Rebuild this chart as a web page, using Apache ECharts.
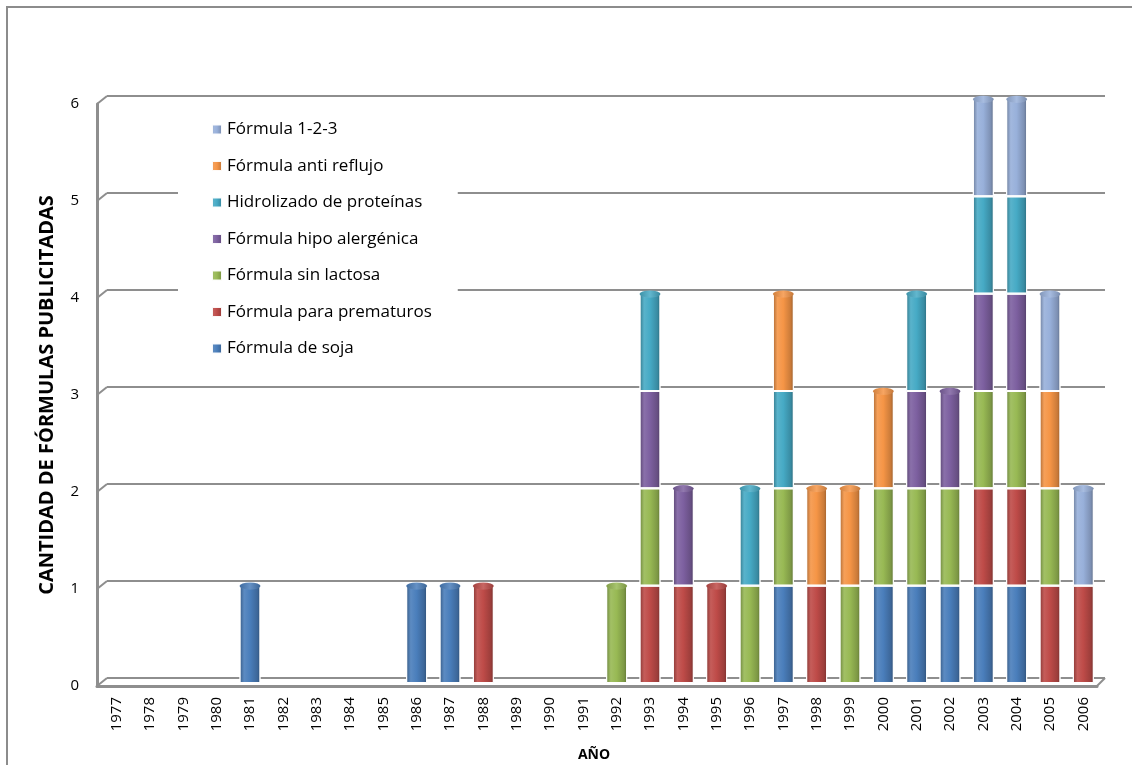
<!DOCTYPE html>
<html>
<head>
<meta charset="utf-8">
<script src="https://cdn.jsdelivr.net/npm/echarts@6/dist/echarts.min.js"></script>
<style>
  html, body { margin: 0; padding: 0; background: #ffffff; }
  #chart { width: 1132px; height: 765px; }
</style>
</head>
<body>
<div id="chart"></div>
<script>
// Years on the horizontal axis
const years = ['1977','1978','1979','1980','1981','1982','1983','1984','1985','1986',
               '1987','1988','1989','1990','1991','1992','1993','1994','1995','1996',
               '1997','1998','1999','2000','2001','2002','2003','2004','2005','2006'];

// Number of advertised formulas per type and year
const soja        = [0,0,0,0,1,0,0,0,0,1, 1,0,0,0,0,0,0,0,0,0, 1,0,0,1,1,1,1,1,0,0];
const prematuros  = [0,0,0,0,0,0,0,0,0,0, 0,1,0,0,0,0,1,1,1,0, 0,1,0,0,0,0,1,1,1,1];
const sinLactosa  = [0,0,0,0,0,0,0,0,0,0, 0,0,0,0,0,1,1,0,0,1, 1,0,1,1,1,1,1,1,1,0];
const hipoAlerg   = [0,0,0,0,0,0,0,0,0,0, 0,0,0,0,0,0,1,1,0,0, 0,0,0,0,1,1,1,1,0,0];
const hidrolizado = [0,0,0,0,0,0,0,0,0,0, 0,0,0,0,0,0,1,0,0,1, 1,0,0,0,1,0,1,1,0,0];
const antiReflujo = [0,0,0,0,0,0,0,0,0,0, 0,0,0,0,0,0,0,0,0,0, 1,1,1,1,0,0,0,0,1,0];
const formula123  = [0,0,0,0,0,0,0,0,0,0, 0,0,0,0,0,0,0,0,0,0, 0,0,0,0,0,0,1,1,1,1];

const yTicks = [0, 1, 2, 3, 4, 5, 6];

const seriesDefs = [
  { name: 'Fórmula de soja',          data: soja,        color: '#4A7EBB' },
  { name: 'Fórmula para prematuros',  data: prematuros,  color: '#BE4B48' },
  { name: 'Fórmula sin lactosa',      data: sinLactosa,  color: '#98B954' },
  { name: 'Fórmula hipo alergénica',  data: hipoAlerg,   color: '#7D60A0' },
  { name: 'Hidrolizado de proteínas', data: hidrolizado, color: '#46AAC5' },
  { name: 'Fórmula anti reflujo',     data: antiReflujo, color: '#F59546' },
  { name: 'Fórmula 1-2-3',            data: formula123,  color: '#98B0DA' }
];

function shade(hex, f) {
  const n = parseInt(hex.slice(1), 16);
  let r = (n >> 16) & 255, g = (n >> 8) & 255, b = n & 255;
  const mix = (c) => f >= 0 ? Math.round(c + (255 - c) * f) : Math.round(c * (1 + f));
  return 'rgb(' + mix(r) + ',' + mix(g) + ',' + mix(b) + ')';
}

// Horizontal gradient that gives each bar a rounded, cylinder-like look
function cylinder(hex) {
  return new echarts.graphic.LinearGradient(0, 0, 1, 0, [
    { offset: 0.00, color: shade(hex, -0.30) },
    { offset: 0.22, color: shade(hex, 0.10) },
    { offset: 0.50, color: hex },
    { offset: 0.85, color: shade(hex, -0.18) },
    { offset: 1.00, color: shade(hex, -0.38) }
  ]);
}

// Stack totals and the colour of the top segment, for the elliptical caps
const totals = years.map((_, i) => seriesDefs.reduce((s, d) => s + d.data[i], 0));
const capData = years.map((_, i) => {
  let top = -1;
  seriesDefs.forEach((d, k) => { if (d.data[i] > 0) top = k; });
  if (top < 0) return '-';
  const c = seriesDefs[top].color;
  return {
    value: totals[i],
    itemStyle: {
      color: new echarts.graphic.LinearGradient(0, 0, 1, 0, [
        { offset: 0, color: shade(c, -0.15) },
        { offset: 0.5, color: shade(c, 0.15) },
        { offset: 1, color: shade(c, -0.2) }
      ]),
      borderColor: '#f2f4f8', borderWidth: 1
    }
  };
});

const FONT = 'Open Sans';
const GRID_GREY = '#8e8e8e';

const chart = echarts.init(document.getElementById('chart'), null, { renderer: 'canvas' });

const barSeries = seriesDefs.map((d) => ({
  name: d.name,
  type: 'bar',
  stack: 'total',
  xAxisIndex: 0,
  yAxisIndex: 0,
  barWidth: 21,
  z: 5,
  data: d.data.map(v => v === 0 ? '-' : v),
  itemStyle: { color: cylinder(d.color), borderColor: 'rgba(255,255,255,0.95)', borderWidth: 1 },
  emphasis: { disabled: true }
}));

const option = {
  animation: false,
  backgroundColor: '#ffffff',
  color: seriesDefs.map(d => d.color),
  grid: [
    { left: 100, right: 32, top: 99, bottom: 82, outerBoundsMode: 'none' },   // bars
    { left: 107, right: 27, top: 96, bottom: 87, outerBoundsMode: 'none' },   // back wall
    { left: 97,  right: 35, top: 104, bottom: 79, outerBoundsMode: 'none' }   // front edges and labels
  ],
  xAxis: [
    {
      gridIndex: 0, type: 'category', data: years, boundaryGap: true,
      axisLine: { show: false }, axisTick: { show: false },
      axisLabel: { rotate: 90, fontSize: 15, color: '#000', margin: 14, fontFamily: FONT },
      name: 'AÑO', nameLocation: 'middle', nameGap: 65,
      nameTextStyle: { fontSize: 14, fontWeight: 'bold', color: '#000', fontFamily: FONT, padding: [0, 12, 0, 0] }
    },
    {
      gridIndex: 1, type: 'category', data: years, show: true,
      axisLine: { show: false }, axisTick: { show: false }, axisLabel: { show: false }
    },
    {
      gridIndex: 2, type: 'category', data: years,
      axisLine: { show: true, lineStyle: { color: GRID_GREY, width: 3 } },
      axisTick: { show: false }, axisLabel: { show: false }
    }
  ],
  yAxis: [
    {
      gridIndex: 0, type: 'value', min: 0, max: 6, interval: 1,
      axisLine: { show: false }, axisTick: { show: false }, axisLabel: { show: false },
      splitLine: { show: false }
    },
    {
      gridIndex: 1, type: 'value', min: 0, max: 6, interval: 1,
      axisLine: { show: false }, axisTick: { show: false }, axisLabel: { show: false },
      splitLine: { show: true, lineStyle: { color: GRID_GREY, width: 2 } }
    },
    {
      gridIndex: 2, type: 'value', min: 0, max: 6, interval: 1,
      axisLine: { show: true, lineStyle: { color: GRID_GREY, width: 3 } },
      axisTick: { show: false }, splitLine: { show: false },
      axisLabel: {
        color: '#000', fontSize: 15, margin: 18, fontFamily: FONT,
        formatter: (v) => yTicks.indexOf(v) >= 0 ? String(v) : ''
      },
      name: 'CANTIDAD DE FÓRMULAS PUBLICITADAS', nameLocation: 'middle', nameRotate: 90, nameGap: 40,
      nameTextStyle: { fontSize: 20, fontWeight: 'bold', color: '#000', fontFamily: FONT }
    }
  ],
  legend: {
    orient: 'vertical',
    left: 178, top: 110,
    padding: [10, 26, 10, 33],
    backgroundColor: '#ffffff',
    itemWidth: 10, itemHeight: 10, itemGap: 17.5,
    icon: 'rect',
    data: seriesDefs.map(d => d.name).reverse(),
    textStyle: { fontSize: 17, color: '#000', fontFamily: FONT, lineHeight: 19 },
    selectedMode: false,
    z: 4
  },
  series: barSeries.concat([{
    name: 'cap',
    type: 'pictorialBar',
    xAxisIndex: 0, yAxisIndex: 0,
    symbol: 'circle',
    symbolSize: [21, 7],
    symbolPosition: 'end',
    symbolOffset: [0, '-50%'],
    z: 6,
    data: capData,
    emphasis: { disabled: true },
    tooltip: { show: false }
  }])
};

chart.setOption(option);

// Depth edges: short diagonals joining the front axis with the back wall,
// plus the outer frame of the chart area.
const gFront = chart.getModel().getComponent('grid', 2).coordinateSystem.getRect();
const gBack = chart.getModel().getComponent('grid', 1).coordinateSystem.getRect();
const edges = yTicks.map((v) => {
  const yf = chart.convertToPixel({ yAxisIndex: 2 }, v);
  const yb = chart.convertToPixel({ yAxisIndex: 1 }, v);
  return {
    type: 'line', silent: true, z: 3,
    shape: { x1: gFront.x, y1: yf, x2: gBack.x, y2: yb },
    style: { stroke: GRID_GREY, lineWidth: 2 }
  };
});
const y0f = chart.convertToPixel({ yAxisIndex: 2 }, 0);
const y0b = chart.convertToPixel({ yAxisIndex: 1 }, 0);
edges.push({
  type: 'line', silent: true, z: 3,
  shape: { x1: gFront.x + gFront.width, y1: y0f, x2: gBack.x + gBack.width, y2: y0b },
  style: { stroke: GRID_GREY, lineWidth: 2 }
});
edges.push({
  type: 'rect', silent: true, z: 0,
  shape: { x: 7, y: 7, width: 1140, height: 800 },
  style: { fill: 'none', stroke: '#8c8c8c', lineWidth: 2 }
});
chart.setOption({ graphic: edges });
</script>
</body>
</html>
